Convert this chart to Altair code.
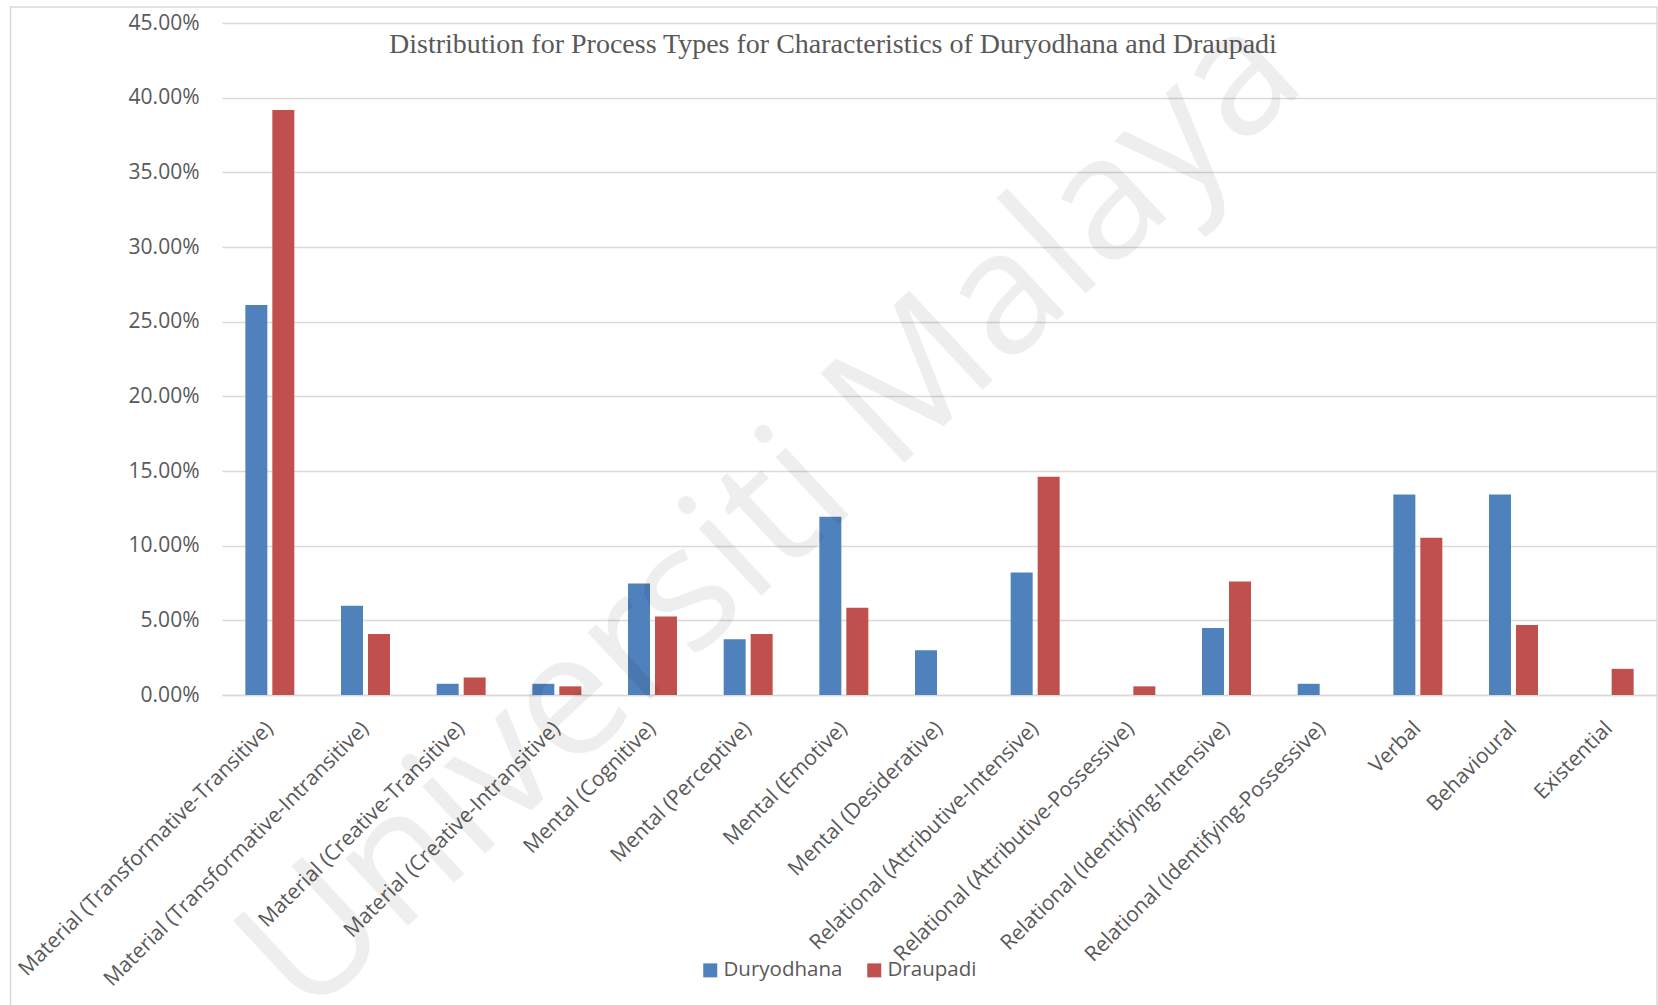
import altair as alt
import pandas as pd

categories = [
    "Material (Transformative-Transitive)",
    "Material (Transformative-Intransitive)",
    "Material (Creative-Transitive)",
    "Material (Creative-Intransitive)",
    "Mental (Cognitive)",
    "Mental (Perceptive)",
    "Mental (Emotive)",
    "Mental (Desiderative)",
    "Relational (Attributive-Intensive)",
    "Relational (Attributive-Possessive)",
    "Relational (Identifying-Intensive)",
    "Relational (Identifying-Possessive)",
    "Verbal",
    "Behavioural",
    "Existential",
]
duryodhana = [0.2612, 0.0597, 0.0075, 0.0075, 0.0746, 0.0373, 0.1194, 0.0299,
              0.0821, 0.0, 0.0448, 0.0075, 0.1343, 0.1343, 0.0]
draupadi = [0.3918, 0.0409, 0.0117, 0.0058, 0.0526, 0.0409, 0.0585, 0.0,
            0.1462, 0.0058, 0.0760, 0.0, 0.1053, 0.0468, 0.0175]
series_names = ["Duryodhana", "Draupadi"]
series_colors = ["#4F81BD", "#C0504D"]
y_ticks = [0.0, 0.05, 0.10, 0.15, 0.20, 0.25, 0.30, 0.35, 0.40, 0.45]
title_text = ["Distribution for Process Types for Characteristics of Duryodhana and Draupadi"]
watermark_text = ["Universiti Malaya"]

rows = []
for c, d, p in zip(categories, duryodhana, draupadi):
    rows.append({"category": c, "series": series_names[0], "value": d})
    rows.append({"category": c, "series": series_names[1], "value": p})
df = pd.DataFrame(rows)

W, H = 1435, 672
LEFT, TOP = 222, 23
TXT = "#595959"
GRID = "#D9D9D9"

bars = alt.Chart(df).mark_bar().encode(
    x=alt.X(
        "category:N", sort=categories,
        scale=alt.Scale(paddingInner=0.488, paddingOuter=0.244),
        axis=alt.Axis(title=None, labelAngle=315, labelAlign="right", labelBaseline="middle",
                      labelPadding=30, ticks=False, domainColor=GRID, domainWidth=1.5,
                      labelFont="Open Sans", labelFontSize=21, labelColor=TXT, grid=False,
                      labelLimit=0),
    ),
    xOffset=alt.XOffset("series:N", sort=series_names,
                        scale=alt.Scale(paddingInner=0.185, paddingOuter=0)),
    y=alt.Y(
        "value:Q", scale=alt.Scale(domain=[0, 0.45], nice=False),
        axis=alt.Axis(title=None, format=".2%", values=y_ticks, ticks=False, domain=False,
                      gridColor=GRID, gridWidth=1.5, labelPadding=23, labelFont="Open Sans",
                      labelFontSize=21, labelColor=TXT),
    ),
    color=alt.Color(
        "series:N", scale=alt.Scale(domain=series_names, range=series_colors),
        legend=alt.Legend(title=None, orient="none", legendX=478, legendY=937,
                          direction="horizontal", symbolType="square", symbolSize=196,
                          symbolStrokeWidth=0, labelOffset=3, columnPadding=21,
                          labelFont="Open Sans", labelFontSize=20.5, labelColor=TXT, padding=0),
    ),
)

title = alt.Chart(pd.DataFrame({"t": title_text})).mark_text(
    font="Liberation Serif", fontSize=28, color=TXT, align="left", baseline="alphabetic",
).encode(text="t:N", x=alt.value(167), y=alt.value(30))

wm = alt.Chart(pd.DataFrame({"t": watermark_text})).mark_text(
    angle=317, fontSize=172, font="Open Sans", color="#000000", opacity=0.063,
    align="center", baseline="middle",
).encode(text="t:N", x=alt.value(550), y=alt.value(492))

frame = alt.Chart(pd.DataFrame({"t": watermark_text})).mark_rect(
    fillOpacity=0, stroke=GRID, strokeWidth=1.5,
).encode(x=alt.value(10.5 - LEFT), x2=alt.value(1657 - LEFT),
         y=alt.value(7 - TOP), y2=alt.value(1015 - TOP))

chart = alt.layer(frame, bars, title, wm).properties(
    width=W, height=H,
    padding={"left": LEFT, "top": TOP, "right": 1, "bottom": 310},
    autosize=alt.AutoSizeParams(type="none"),
).configure_view(stroke="transparent")

chart.save("out.html", embed_options={"renderer": "svg", "actions": False})
